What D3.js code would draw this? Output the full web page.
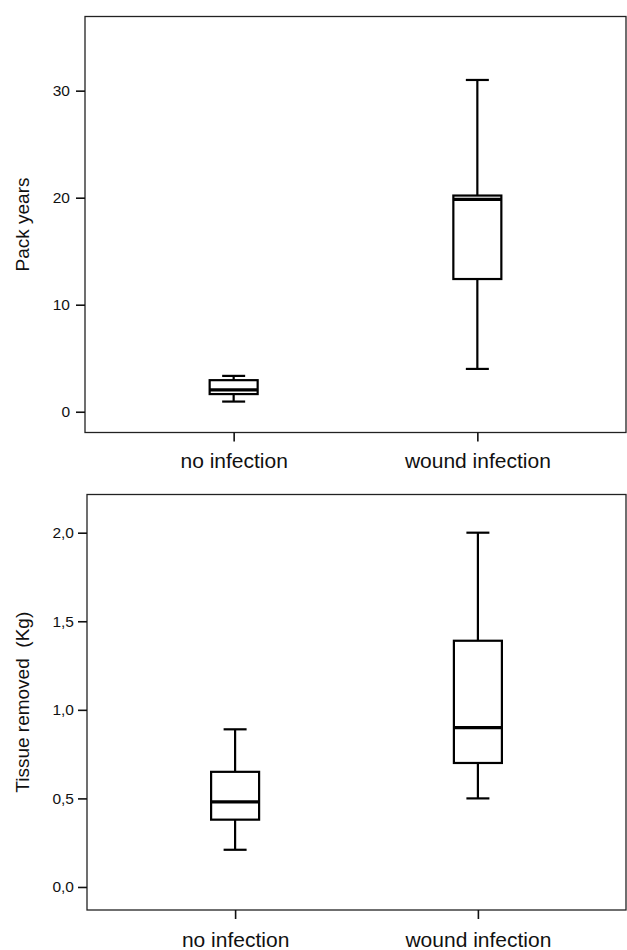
<!DOCTYPE html>
<html>
<head>
<meta charset="utf-8">
<script src="https://cdn.jsdelivr.net/npm/d3@7"></script>
<style>
  body { margin: 0; background: #fff; }
  svg text { font-family: "Liberation Sans", Arial, sans-serif; fill: #111; }
</style>
</head>
<body>
<figure id="boxplots" style="margin:0"></figure>
<script>
// categories
var categories = ['no infection', 'wound infection'];

// pack years (min, q1, median, q3, max)
var packMin = [0.95, 4.0];
var packQ1 = [1.65, 12.4];
var packMedian = [2.05, 19.85];
var packQ3 = [2.95, 20.2];
var packMax = [3.35, 31.0];
var packTicks = [0, 10, 20, 30];

// tissue removed in kg
var tissueMin = [0.21, 0.5];
var tissueQ1 = [0.38, 0.7];
var tissueMedian = [0.48, 0.9];
var tissueQ3 = [0.65, 1.39];
var tissueMax = [0.89, 2.0];
var tissueTicks = [0, 0.5, 1, 1.5, 2];

var svg = d3.select('figure#boxplots').append('svg')
    .attr('width', 627)
    .attr('height', 950);

function commaFormat(d) {
    return d3.format('.1f')(d).replace('.', ',');
}

function drawPanel(p) {
    var g = svg.append('g').classed('panel', true);

    var x = d3.scalePoint()
        .domain(categories)
        .range([p.left, p.right])
        .padding(0.61);

    var y = d3.scaleLinear()
        .domain(p.domain)
        .range([p.bottom, p.top]);

    // frame
    g.append('rect')
        .attr('x', p.left)
        .attr('y', p.top)
        .attr('width', p.right - p.left)
        .attr('height', p.bottom - p.top)
        .style('fill', 'none')
        .style('stroke', '#222')
        .style('stroke-width', 1.3);

    // axes
    var yAxis = d3.axisLeft(y)
        .tickValues(p.ticks)
        .tickFormat(p.format)
        .tickSize(9)
        .tickPadding(p.labelPad);
    var ya = g.append('g')
        .attr('transform', 'translate(' + p.left + ',0)')
        .call(yAxis);
    ya.select('.domain').remove();
    ya.selectAll('line').style('stroke', '#111').style('stroke-width', 1.6);
    ya.selectAll('text').style('font-size', '15.5px');

    var xAxis = d3.axisBottom(x)
        .tickSize(9)
        .tickPadding(p.xPad);
    var xa = g.append('g')
        .attr('transform', 'translate(0,' + p.bottom + ')')
        .call(xAxis);
    xa.select('.domain').remove();
    xa.selectAll('line').style('stroke', '#111').style('stroke-width', 1.6);
    xa.selectAll('text').style('font-size', '21px');

    // y title
    g.append('text')
        .attr('transform', 'translate(22,' + ((p.top + p.bottom) / 2) + ') rotate(-90)')
        .attr('dy', '0.35em')
        .style('text-anchor', 'middle')
        .style('white-space', 'pre')
        .style('font-size', '19px')
        .text(p.title);

    // boxes
    var boxW = 48, capW = 23;
    var rows = categories.map(function(c, i) {
        return {cat: c, min: p.min[i], q1: p.q1[i], med: p.med[i], q3: p.q3[i], max: p.max[i]};
    });

    var box = g.selectAll('.box')
        .data(rows)
        .enter()
        .append('g')
            .classed('box', true);

    box.append('line')
        .attr('x1', function(d) { return x(d.cat); })
        .attr('x2', function(d) { return x(d.cat); })
        .attr('y1', function(d) { return y(d.max); })
        .attr('y2', function(d) { return y(d.q3); });
    box.append('line')
        .attr('x1', function(d) { return x(d.cat); })
        .attr('x2', function(d) { return x(d.cat); })
        .attr('y1', function(d) { return y(d.q1); })
        .attr('y2', function(d) { return y(d.min); });
    box.append('line')
        .attr('x1', function(d) { return x(d.cat) - capW / 2; })
        .attr('x2', function(d) { return x(d.cat) + capW / 2; })
        .attr('y1', function(d) { return y(d.max); })
        .attr('y2', function(d) { return y(d.max); });
    box.append('line')
        .attr('x1', function(d) { return x(d.cat) - capW / 2; })
        .attr('x2', function(d) { return x(d.cat) + capW / 2; })
        .attr('y1', function(d) { return y(d.min); })
        .attr('y2', function(d) { return y(d.min); });
    box.append('rect')
        .attr('x', function(d) { return x(d.cat) - boxW / 2; })
        .attr('y', function(d) { return y(d.q3); })
        .attr('width', boxW)
        .attr('height', function(d) { return y(d.q1) - y(d.q3); })
        .style('fill', '#fff');
    box.append('line')
        .classed('median', true)
        .attr('x1', function(d) { return x(d.cat) - boxW / 2; })
        .attr('x2', function(d) { return x(d.cat) + boxW / 2; })
        .attr('y1', function(d) { return y(d.med); })
        .attr('y2', function(d) { return y(d.med); });

    box.selectAll('line, rect')
        .style('stroke', '#000')
        .style('stroke-width', 2.2);
    box.selectAll('.median')
        .style('stroke-width', 3.2);
}

drawPanel({
    left: 85, right: 626, top: 16.5, bottom: 432.5,
    domain: [-1.94, 36.93],
    ticks: packTicks,
    format: d3.format('d'),
    labelPad: 6, xPad: 12,
    title: 'Pack years',
    min: packMin, q1: packQ1, med: packMedian, q3: packQ3, max: packMax
});

drawPanel({
    left: 87, right: 626, top: 494.5, bottom: 910,
    domain: [-0.13, 2.2156],
    ticks: tissueTicks,
    format: commaFormat,
    labelPad: 4, xPad: 13,
    title: 'Tissue removed  (Kg)',
    min: tissueMin, q1: tissueQ1, med: tissueMedian, q3: tissueQ3, max: tissueMax
});
</script>
</body>
</html>
